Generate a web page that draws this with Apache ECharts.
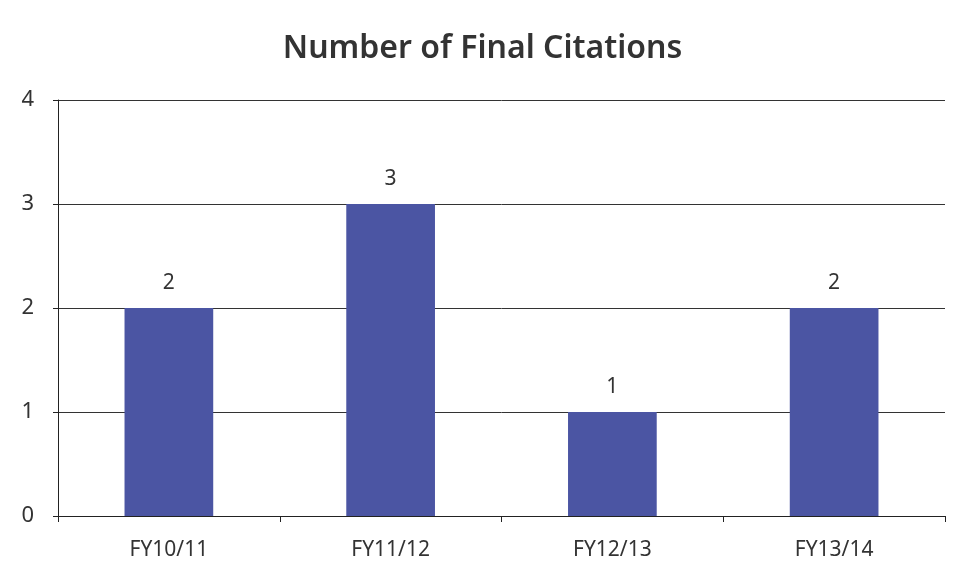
<!DOCTYPE html>
<html>
<head>
<meta charset="utf-8">
<script src="https://cdn.jsdelivr.net/npm/echarts@6/dist/echarts.min.js"></script>
<style>html,body{margin:0;padding:0;background:#fff}#c{width:965px;height:581px}</style>
</head>
<body>
<div id="c"></div>
<script>
const titleText = 'Number of Final Citations';
const categories = ['FY10/11', 'FY11/12', 'FY12/13', 'FY13/14'];
const citations = [2, 3, 1, 2];
const yTicks = [0, 1, 2, 3, 4];

const chart = echarts.init(document.getElementById('c'));
chart.setOption({
  animation: false,
  backgroundColor: '#fff',
  title: {
    text: titleText, left: 'center', top: 28,
    textStyle: { fontFamily: 'Noto Sans', fontWeight: 600, fontSize: 32, color: '#333' }
  },
  grid: { left: 58, right: 20, top: 100, bottom: 65 },
  xAxis: {
    type: 'category', data: categories,
    axisLine: { lineStyle: { color: '#222', width: 1 } },
    axisTick: { show: true, length: 6, lineStyle: { color: '#222' } },
    axisLabel: { fontFamily: 'Noto Sans', fontSize: 21, color: '#333', margin: 24 }
  },
  yAxis: {
    type: 'value', min: yTicks[0], max: yTicks[yTicks.length - 1], interval: 1,
    axisLine: { show: true, lineStyle: { color: '#222', width: 1 } },
    axisTick: { show: true, length: 5, lineStyle: { color: '#222' } },
    axisLabel: { fontFamily: 'Noto Sans', fontSize: 22, color: '#333', margin: 24 },
    splitLine: { lineStyle: { color: '#333', width: 1 } }
  },
  series: [{
    type: 'bar', data: citations, barWidth: '40%',
    itemStyle: { color: '#4b55a3' },
    label: { show: true, position: 'top', distance: 14, fontFamily: 'Noto Sans', fontSize: 21, color: '#333' }
  }]
});
</script>
</body>
</html>
